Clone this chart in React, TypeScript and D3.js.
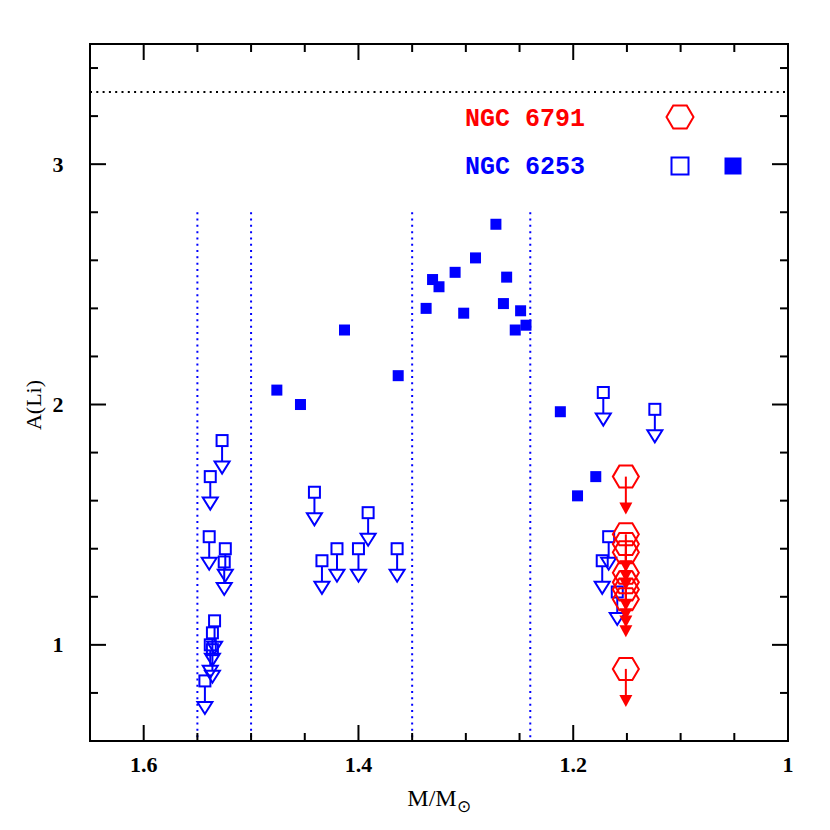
import React from "react";
import * as d3 from "d3";

// NGC 6253 detections (filled squares): [mass, A(Li)]
const n6253Det: [number, number][] = [
  [1.476, 2.06], [1.454, 2.0], [1.413, 2.31], [1.363, 2.12],
  [1.272, 2.75], [1.291, 2.61], [1.31, 2.55], [1.331, 2.52], [1.325, 2.49],
  [1.262, 2.53], [1.337, 2.4], [1.302, 2.38], [1.265, 2.42], [1.249, 2.39],
  [1.254, 2.31], [1.244, 2.33], [1.212, 1.97], [1.196, 1.62], [1.179, 1.7],
];

// NGC 6253 upper limits (open squares + arrows)
const n6253Lim: [number, number][] = [
  [1.527, 1.85], [1.538, 1.70], [1.539, 1.45], [1.524, 1.40], [1.525, 1.345],
  [1.534, 1.10], [1.536, 1.05], [1.538, 1.00], [1.536, 0.98], [1.543, 0.85],
  [1.441, 1.635], [1.391, 1.55], [1.42, 1.40], [1.40, 1.40], [1.434, 1.35], [1.364, 1.40],
  [1.172, 2.05], [1.124, 1.98], [1.167, 1.45], [1.173, 1.35], [1.159, 1.22],
];

// NGC 6791 upper limits (open hexagons + arrows)
const n6791Lim: [number, number][] = [
  [1.151, 1.70], [1.151, 1.46], [1.151, 1.42], [1.151, 1.385], [1.151, 1.30],
  [1.151, 1.26], [1.151, 1.23], [1.151, 1.19], [1.151, 0.90],
];

const vLines = [1.55, 1.5, 1.35, 1.24];
const xMajor = [1.6, 1.4, 1.2, 1.0];
const xTickLabels = ["1.6", "1.4", "1.2", "1"];
const yMajor = [1, 2, 3];
const yTickLabels = ["1", "2", "3"];
const solarLi = 3.3;

const W = 830, H = 830;
const L = 90, R = 788, T = 44, B = 741;
const BLUE = "#0000ff", RED = "#ff0000";

export default function App() {
  const x = d3.scaleLinear().domain([1.65, 1.0]).range([L, R]);
  const y = d3.scaleLinear().domain([0.6, 3.5]).range([B, T]);
  const xMinor = d3.range(13).map((i) => 1.0 + i * 0.05).filter((v) => v < 1.649);
  const yMinor = d3.range(15).map((i) => 0.6 + i * 0.2).filter((v) => v > 0.61 && v < 3.49);
  const isMajX = (v: number) => xMajor.some((m) => Math.abs(m - v) < 1e-6);
  const isMajY = (v: number) => yMajor.some((m) => Math.abs(m - v) < 1e-6);
  const majL = 16, minL = 8;

  const hex = (cx: number, cy: number, rx: number, ry: number) => {
    const pts = [
      [cx - rx, cy], [cx - rx / 2, cy - ry], [cx + rx / 2, cy - ry],
      [cx + rx, cy], [cx + rx / 2, cy + ry], [cx - rx / 2, cy + ry],
    ];
    return pts.map((p) => p.join(",")).join(" ");
  };

  const font = "'Liberation Serif', serif";

  return (
    <svg width={W} height={H} style={{ display: "block", position: "absolute", left: 0, top: 0 }}>
      <rect x={0} y={0} width={W} height={H} fill="#fff" />
      {/* vertical dotted lines */}
      {vLines.map((v, i) => (
        <line key={"vl" + i} x1={x(v)} x2={x(v)} y1={y(2.8)} y2={B}
          stroke={BLUE} strokeWidth={2} strokeDasharray="2 4.3" />
      ))}
      {/* solar dotted line */}
      <line x1={L} x2={R} y1={y(solarLi)} y2={y(solarLi)} stroke="#000" strokeWidth={2} strokeDasharray="2 4.3" />

      {/* ticks */}
      {xMinor.map((v, i) => {
        const len = isMajX(v) ? majL : minL;
        return (
          <g key={"xt" + i}>
            <line x1={x(v)} x2={x(v)} y1={B} y2={B - len} stroke="#000" strokeWidth={2} />
            <line x1={x(v)} x2={x(v)} y1={T} y2={T + len} stroke="#000" strokeWidth={2} />
          </g>
        );
      })}
      {yMinor.map((v, i) => {
        const len = isMajY(v) ? majL : minL;
        return (
          <g key={"yt" + i}>
            <line x1={L} x2={L + len} y1={y(v)} y2={y(v)} stroke="#000" strokeWidth={2} />
            <line x1={R} x2={R - len} y1={y(v)} y2={y(v)} stroke="#000" strokeWidth={2} />
          </g>
        );
      })}
      <rect x={L} y={T} width={R - L} height={B - T} fill="none" stroke="#000" strokeWidth={2} />

      {/* tick labels */}
      {xMajor.map((v, i) => (
        <text key={"xl" + i} x={x(v)} y={772} textAnchor="middle" fontFamily={font}
          fontWeight="bold" fontSize={22}>{xTickLabels[i]}</text>
      ))}
      {yMajor.map((v, i) => (
        <text key={"yl" + i} x={58} y={y(v) + 7.5} textAnchor="middle" fontFamily={font}
          fontWeight="bold" fontSize={22}>{yTickLabels[i]}</text>
      ))}

      {/* axis titles */}
      <text x={439} y={806} textAnchor="middle" fontFamily={font} fontSize={24}>
        M/M<tspan fontSize={17} dy={6}>⊙</tspan>
      </text>
      <text transform={`translate(41,405) rotate(-90)`} textAnchor="middle" fontFamily={font} fontSize={22}>A(Li)</text>

      {/* NGC 6253 detections */}
      {n6253Det.map(([m, a], i) => (
        <rect key={"d" + i} x={x(m) - 5.5} y={y(a) - 5.5} width={11} height={11} fill={BLUE} />
      ))}

      {/* NGC 6253 upper limits */}
      {n6253Lim.map(([m, a], i) => {
        const cx = x(m), cy = y(a);
        const tip = cy + 33;
        return (
          <g key={"l" + i} fill="none" stroke={BLUE} strokeWidth={2}>
            <rect x={cx - 5.5} y={cy - 5.5} width={11} height={11} />
            <line x1={cx} x2={cx} y1={cy + 5.5} y2={tip - 12} />
            <polygon points={`${cx - 7.5},${tip - 12} ${cx + 7.5},${tip - 12} ${cx},${tip}`} />
          </g>
        );
      })}

      {/* NGC 6791 upper limits */}
      {n6791Lim.map(([m, a], i) => {
        const cx = x(m), cy = y(a);
        const tip = cy + 38;
        return (
          <g key={"h" + i}>
            <polygon points={hex(cx, cy, 13, 11)} fill="none" stroke={RED} strokeWidth={2} />
            <line x1={cx} x2={cx} y1={cy} y2={tip - 10} stroke={RED} strokeWidth={2} />
            <polygon points={`${cx - 6.5},${tip - 12} ${cx + 6.5},${tip - 12} ${cx},${tip}`} fill={RED} />
          </g>
        );
      })}

      {/* legend */}
      <text x={465} y={126} fill={RED} fontFamily="'Liberation Mono', monospace" fontWeight="bold" fontSize={25}>NGC 6791</text>
      <text x={465} y={174} fill={BLUE} fontFamily="'Liberation Mono', monospace" fontWeight="bold" fontSize={25}>NGC 6253</text>
      <polygon points={hex(680, 117, 13.5, 11.5)} fill="none" stroke={RED} strokeWidth={2} />
      <rect x={680 - 8.5} y={166 - 8.5} width={17} height={17} fill="none" stroke={BLUE} strokeWidth={2} />
      <rect x={733 - 8.5} y={166 - 8.5} width={17} height={17} fill={BLUE} />
    </svg>
  );
}
